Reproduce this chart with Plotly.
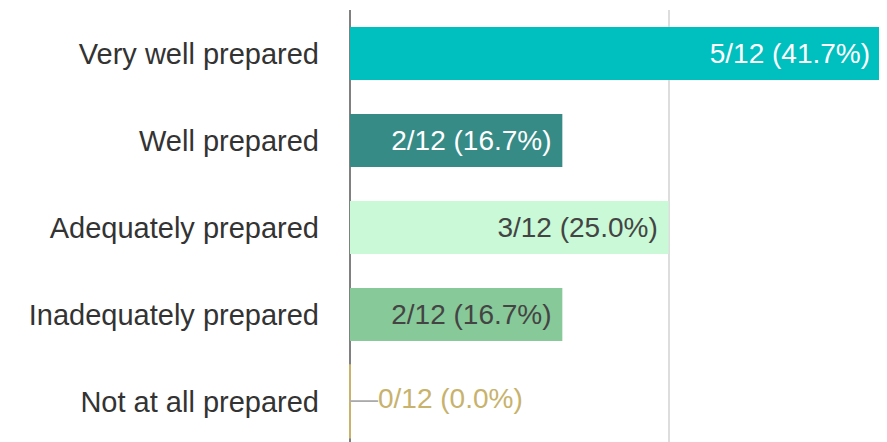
import plotly.graph_objects as go

categories = ["Very well prepared", "Well prepared", "Adequately prepared",
              "Inadequately prepared", "Not at all prepared"]
counts = [5, 2, 3, 2, 0]
total = 12
bar_colors = ["#00BFBF", "#368B86", "#C9F9D6", "#88C999", "#C8B26C"]
text_colors = ["#FFFFFF", "#FFFFFF", "#444444", "#444444", "#C8B26C"]

pct = [c / total * 100 for c in counts]
labels = [f"{c}/{total} ({p:.1f}%)" for c, p in zip(counts, pct)]

FONT = "Liberation Sans, Arial, sans-serif"

fig = go.Figure()

nz = [i for i, c in enumerate(counts) if c > 0]
z = [i for i, c in enumerate(counts) if c == 0]

fig.add_trace(go.Bar(
    orientation="h",
    y=[categories[i] for i in nz],
    x=[pct[i] for i in nz],
    text=[labels[i] + "&nbsp;" for i in nz],
    textposition="inside",
    insidetextanchor="end",
    textangle=0,
    textfont=dict(color=[text_colors[i] for i in nz], size=28, family=FONT),
    marker=dict(color=[bar_colors[i] for i in nz], line=dict(width=0)),
    hoverinfo="skip",
    cliponaxis=False,
))

# zero-valued categories: thin vertical bar edge and outside label
fig.add_trace(go.Scatter(
    y=[categories[i] for i in z],
    x=[pct[i] for i in z],
    mode="markers",
    marker=dict(symbol="line-ns-open", size=53,
                color=[bar_colors[i] for i in z],
                line=dict(width=2, color=[bar_colors[i] for i in z])),
    hoverinfo="skip",
    cliponaxis=False,
))
fig.add_trace(go.Scatter(
    y=[categories[i] for i in z],
    x=[pct[i] for i in z],
    mode="text",
    text=['<span style="color:#AAAAAA">—</span>' + labels[i] for i in z],
    textposition="middle right",
    textfont=dict(color=[text_colors[i] for i in z], size=28, family=FONT),
    hoverinfo="skip",
    cliponaxis=False,
))

fig.update_layout(
    width=879, height=434,
    margin=dict(l=342, r=0, t=2, b=0, autoexpand=False),
    paper_bgcolor="white", plot_bgcolor="white",
    showlegend=False,
    bargap=0.39,
    font=dict(family=FONT, color="#333333"),
)
fig.update_xaxes(
    range=[0, 42.15], dtick=25, tick0=0,
    showgrid=True, gridcolor="#DDDDDD", gridwidth=2,
    zeroline=True, zerolinecolor="#808080", zerolinewidth=2,
    showticklabels=False, showline=False,
)
fig.update_yaxes(
    categoryorder="array", categoryarray=categories,
    range=[4.466, -0.5],
    showgrid=False, zeroline=False, showline=False,
    ticks="", ticklabelstandoff=30, automargin=False,
    tickfont=dict(size=29, color="#333333", family=FONT),
)

fig.write_html("out.html")
